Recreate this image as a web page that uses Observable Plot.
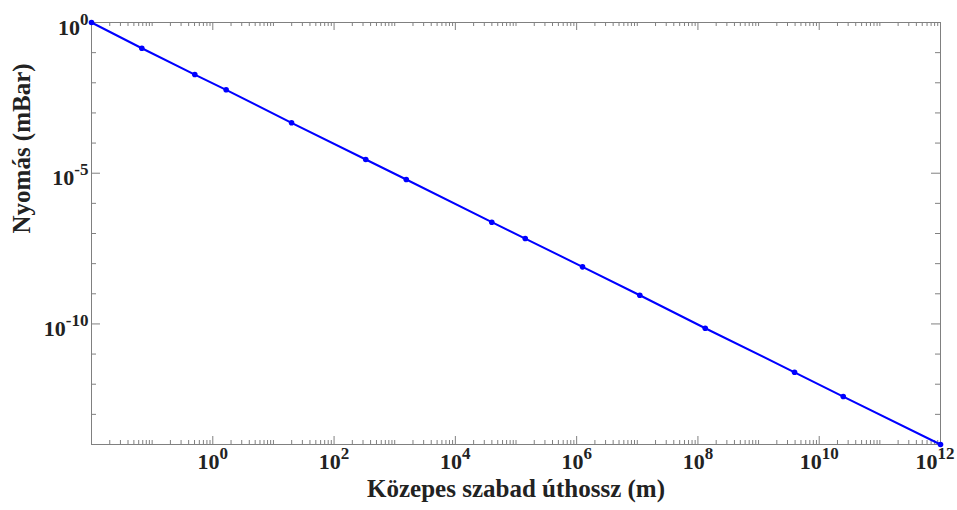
<!DOCTYPE html>
<html>
<head>
<meta charset="utf-8">
<script src="https://cdn.jsdelivr.net/npm/d3@7"></script>
<script src="https://cdn.jsdelivr.net/npm/@observablehq/plot@0.6"></script>
<style>
  html, body { margin: 0; padding: 0; background: #fff; }
  #chart svg { display: block; }
</style>
</head>
<body>
<div id="chart"></div>
<script>
// Data
const meanFreePath = [0.01, 0.0676, 0.505, 1.66, 19.9, 333, 1550, 39900, 1.42e5, 1.25e6, 1.10e7, 1.32e8, 3.92e9, 2.49e10, 1e12];
const pressure     = [1, 0.14, 0.0188, 5.85e-3, 4.7e-4, 2.85e-5, 6.18e-6, 2.37e-7, 6.8e-8, 7.83e-9, 8.95e-10, 7.19e-11, 2.49e-12, 3.9e-13, 1e-14];

// Axis decades / tick labels
const xDecades = [-2, -1, 0, 1, 2, 3, 4, 5, 6, 7, 8, 9, 10, 11, 12];
const xMajorDecades = [-2, 0, 2, 4, 6, 8, 10, 12];
const xLabelDecades = [0, 2, 4, 6, 8, 10];
const xLastLabelDecade = [12];
const yDecades = [0, -1, -2, -3, -4, -5, -6, -7, -8, -9, -10, -11, -12, -13, -14];
const yMajorDecades = [0, -5, -10];
const yLabelDecades = [0, -5, -10];
const xTitle = "Közepes szabad úthossz (m)";
const yTitle = "Nyomás (mBar)";

const data = meanFreePath.map((x, i) => ({x, p: pressure[i]}));

const xMajor = xMajorDecades.map(d => Math.pow(10, d));
const xMinor = [];
for (const d of xDecades) {
  for (let k = 1; k <= 9; k++) {
    if (k === 1 && xMajorDecades.includes(d)) continue;
    const v = k * Math.pow(10, d);
    if (v >= 1e-2 && v <= 1e12) xMinor.push(v);
  }
}
const yMajor = yMajorDecades.map(d => Math.pow(10, d));
const yMinor = yDecades.filter(d => !yMajorDecades.includes(d)).map(d => Math.pow(10, d));

const W = 957, H = 510;
const mL = 91, mR = 17, mT = 22, mB = 66;
const plotH = H - mT - mB;
const plotW = W - mL - mR;
const axisColor = "#808080";
const serif = "'Liberation Serif', 'Times New Roman', serif";
const labelFont = {fontSize: 22, fontWeight: "bold", fontFamily: serif, fill: "#222"};
const titleFont = {fontSize: 25, fontWeight: "bold", fontFamily: serif, fill: "#222"};

const chart = Plot.plot({
  width: W,
  height: H,
  marginLeft: mL,
  marginRight: mR,
  marginTop: mT,
  marginBottom: mB,
  style: {fontFamily: serif, background: "#fff"},
  x: {type: "log", domain: [1e-2, 1e12], axis: null},
  y: {type: "log", domain: [1e-14, 1], axis: null},
  marks: [
    // bottom ticks (inward)
    Plot.tickX(xMinor, {x: d => d, insetTop: plotH - 4, stroke: axisColor}),
    Plot.tickX(xMajor, {x: d => d, insetTop: plotH - 8, stroke: axisColor}),
    // top ticks (inward)
    Plot.tickX(xMinor, {x: d => d, insetBottom: plotH - 4, stroke: axisColor}),
    Plot.tickX(xMajor, {x: d => d, insetBottom: plotH - 8, stroke: axisColor}),
    // left ticks
    Plot.tickY(yMinor, {y: d => d, insetRight: plotW - 5, stroke: axisColor}),
    Plot.tickY(yMajor, {y: d => d, insetRight: plotW - 9, stroke: axisColor}),
    // right ticks
    Plot.tickY(yMinor, {y: d => d, insetLeft: plotW - 5, stroke: axisColor}),
    Plot.tickY(yMajor, {y: d => d, insetLeft: plotW - 9, stroke: axisColor}),
    Plot.frame({stroke: axisColor, strokeWidth: 1}),
    // tick labels
    Plot.text(xLabelDecades, {
      x: d => Math.pow(10, d), frameAnchor: "bottom", dy: 24,
      text: d => "10^" + d, textAnchor: "middle", ...labelFont
    }),
    Plot.text(xLastLabelDecade, {
      x: d => Math.pow(10, d), frameAnchor: "bottom", dy: 24, dx: 14,
      text: d => "10^" + d, textAnchor: "end", ...labelFont
    }),
    Plot.text(yLabelDecades, {
      y: d => Math.pow(10, d), frameAnchor: "left", dx: -3, dy: 5,
      text: d => "10^" + d, textAnchor: "end", ...labelFont
    }),
    // axis titles
    Plot.text([xTitle], {
      frameAnchor: "bottom", dy: 52, text: d => d, ...titleFont
    }),
    Plot.text([yTitle], {
      frameAnchor: "left", dx: -70, rotate: -90, text: d => d, ...titleFont
    }),
    // data
    Plot.line(data, {x: "x", y: "p", stroke: "#0000ff", strokeWidth: 2}),
    Plot.dot(data, {x: "x", y: "p", r: 2.8, fill: "#0000ff", stroke: "none"})
  ]
});

// Turn "10^e" labels into 10 with a superscript exponent
d3.select(chart).selectAll("text").each(function () {
  const t = this.textContent;
  const m = /^10\^(-?\d+)$/.exec(t);
  if (!m) return;
  const sel = d3.select(this);
  sel.text(null);
  sel.append("tspan").text("10");
  sel.append("tspan").attr("dy", "-10").attr("font-size", 17).text(m[1]);
});

document.getElementById("chart").appendChild(chart);
</script>
</body>
</html>
